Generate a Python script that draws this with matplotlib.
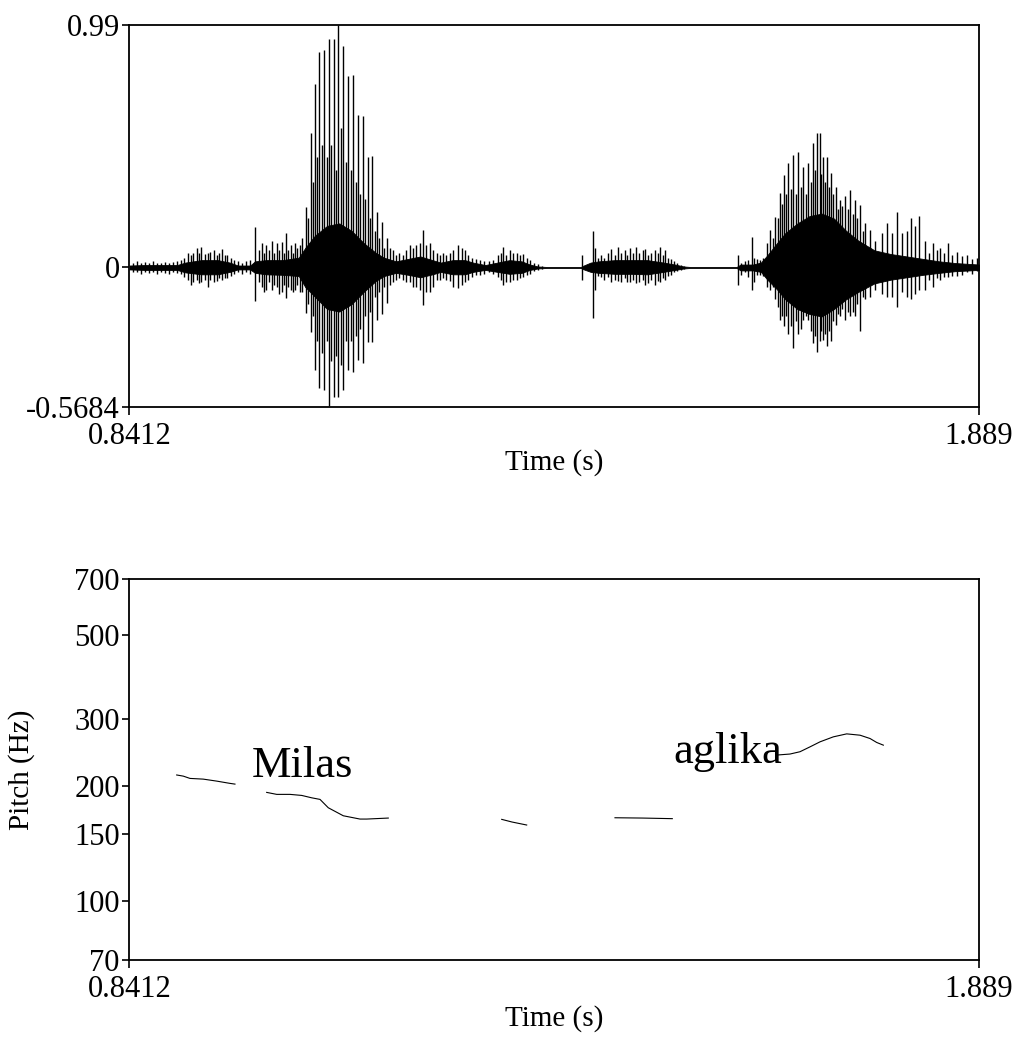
import numpy as np
import matplotlib
matplotlib.use("Agg")
from matplotlib import pyplot as plt
from matplotlib.ticker import NullLocator

plt.rcParams['font.family'] = ['Liberation Serif', 'DejaVu Serif']

t_start = 0.8412
t_end = 1.889
amp_min = -0.5684
amp_max = 0.99

# waveform: dense body (envelope of the black core)
core_t = [0.8412, 0.86, 0.90, 0.91, 0.93, 0.95, 0.965, 0.975, 0.99, 0.996,
          1.01, 1.03, 1.05, 1.058, 1.07, 1.085, 1.10, 1.115, 1.13, 1.145,
          1.155, 1.17, 1.185, 1.20, 1.215, 1.225, 1.24, 1.255, 1.265, 1.28,
          1.295, 1.31, 1.325, 1.335, 1.345, 1.356, 1.398, 1.40, 1.41, 1.42,
          1.44, 1.46, 1.48, 1.50, 1.514, 1.525, 1.533, 1.59, 1.595, 1.61,
          1.62, 1.628, 1.64, 1.65, 1.665, 1.68, 1.695, 1.71, 1.725, 1.74,
          1.76, 1.78, 1.80, 1.82, 1.84, 1.86, 1.889]
core_hi = [0.008, 0.01, 0.01, 0.02, 0.03, 0.03, 0.02, 0.008, 0.008, 0.025,
           0.03, 0.03, 0.04, 0.08, 0.13, 0.17, 0.18, 0.15, 0.1, 0.06,
           0.04, 0.025, 0.035, 0.045, 0.03, 0.02, 0.03, 0.03, 0.02, 0.01,
           0.02, 0.03, 0.025, 0.012, 0.004, 0.002, 0.002, 0.006, 0.02, 0.025,
           0.03, 0.03, 0.03, 0.02, 0.012, 0.004, 0.002, 0.002, 0.012, 0.012,
           0.02, 0.05, 0.1, 0.14, 0.18, 0.21, 0.22, 0.2, 0.15, 0.11,
           0.07, 0.055, 0.045, 0.035, 0.025, 0.018, 0.012]
core_lo = [-0.008, -0.01, -0.01, -0.02, -0.028, -0.028, -0.018, -0.008, -0.008, -0.022,
           -0.028, -0.03, -0.035, -0.08, -0.12, -0.17, -0.18, -0.15, -0.1, -0.055,
           -0.035, -0.022, -0.03, -0.04, -0.028, -0.018, -0.028, -0.028, -0.018, -0.01,
           -0.018, -0.026, -0.022, -0.01, -0.004, -0.002, -0.002, -0.006, -0.018, -0.022,
           -0.026, -0.026, -0.028, -0.018, -0.01, -0.004, -0.002, -0.002, -0.012, -0.012,
           -0.018, -0.05, -0.09, -0.13, -0.17, -0.19, -0.2, -0.17, -0.13, -0.1,
           -0.065, -0.05, -0.04, -0.03, -0.022, -0.015, -0.01]

# waveform: individual peaks sticking out of the body
spike_t = [0.845, 0.850, 0.855, 0.860, 0.865, 0.870, 0.875, 0.880, 0.885, 0.890, 0.895, 0.900, 0.905,
           0.909, 0.913, 0.917, 0.920, 0.924, 0.927, 0.930, 0.934, 0.938, 0.941, 0.945, 0.949,
           0.952, 0.955, 0.959, 0.962, 0.966, 0.970, 0.975, 0.980, 0.985, 0.990,
           0.996,
           1.0015, 1.0043, 1.007, 1.010, 1.013, 1.0166, 1.0195, 1.0228, 1.026, 1.029,
           1.0315, 1.0342, 1.037, 1.040, 1.0425, 1.0453, 1.048, 1.0515, 1.0545,
           1.0589, 1.0618, 1.0647, 1.0672, 1.0696, 1.0725, 1.0753, 1.0782, 1.0811, 1.0842,
           1.0873, 1.0902, 1.0931, 1.0959, 1.0987, 1.1018, 1.1049, 1.1078, 1.1107, 1.114,
           1.1173, 1.1204, 1.1234, 1.1261, 1.1288, 1.1319, 1.135, 1.1378, 1.1407, 1.1434,
           1.1461, 1.1495, 1.153, 1.1557, 1.1584,
           1.162, 1.166, 1.170, 1.174, 1.178, 1.182, 1.1872, 1.191, 1.195, 1.199,
           1.2036, 1.207, 1.2118, 1.216, 1.220, 1.224, 1.228, 1.232, 1.236, 1.2406,
           1.2468, 1.251, 1.255, 1.259, 1.264, 1.269, 1.274, 1.279, 1.285, 1.290,
           1.296, 1.299, 1.3023, 1.306, 1.310, 1.314, 1.3188, 1.323, 1.3269, 1.331,
           1.335, 1.340, 1.345, 1.350,
           1.3997, 1.4133, 1.4155,
           1.419, 1.423, 1.427, 1.431, 1.435, 1.440, 1.444, 1.448, 1.452, 1.455,
           1.4585, 1.462, 1.466, 1.470, 1.474, 1.477, 1.481, 1.485, 1.4894, 1.4925,
           1.4955, 1.499, 1.5017, 1.505, 1.509, 1.513, 1.517, 1.521, 1.525,
           1.5921, 1.596, 1.600, 1.604, 1.6086, 1.612, 1.615, 1.619, 1.623, 1.627,
           1.6312, 1.6374, 1.6435, 1.6485, 1.6538, 1.6599, 1.6661, 1.6723, 1.6784, 1.6846,
           1.6895, 1.6929, 1.6962, 1.7011, 1.7064, 1.7126, 1.7175, 1.7237, 1.7299, 1.736,
           1.7422, 1.7484, 1.7545, 1.7607, 1.769, 1.7751, 1.7813, 1.7875, 1.7936, 1.7998,
           1.8047, 1.81, 1.8153, 1.8224, 1.827, 1.8326, 1.837, 1.8409, 1.846, 1.8511,
           1.856, 1.8615, 1.868, 1.8738, 1.880, 1.8861,
           1.6343, 1.6405, 1.646, 1.6511, 1.6568, 1.663, 1.6692, 1.6753, 1.6815, 1.687,
           1.6946, 1.6986, 1.7037, 1.7095, 1.715, 1.7206, 1.7268, 1.733, 1.7391, 1.7453]
spike_hi = [0.02, 0.025, 0.018, 0.022, 0.02, 0.025, 0.02, 0.018, 0.024, 0.02, 0.022, 0.025, 0.03,
            0.04, 0.06, 0.05, 0.06, 0.08, 0.06, 0.083, 0.055, 0.06, 0.065, 0.07, 0.05,
            0.06, 0.074, 0.05, 0.05, 0.04, 0.03, 0.025, 0.02, 0.025, 0.03,
            0.167,
            0.07, 0.10, 0.06, 0.09, 0.07, 0.11, 0.06, 0.10, 0.07, 0.105,
            0.06, 0.14, 0.07, 0.09, 0.06, 0.10, 0.08, 0.09, 0.12,
            0.248, 0.2, 0.55, 0.35, 0.75, 0.45, 0.88, 0.5, 0.888, 0.45,
            0.933, 0.5, 0.935, 0.4, 0.99, 0.57, 0.904, 0.43, 0.782, 0.4,
            0.786, 0.35, 0.623, 0.3, 0.62, 0.28, 0.452, 0.2, 0.455, 0.15,
            0.228, 0.12, 0.187, 0.08, 0.12,
            0.08, 0.07, 0.05, 0.06, 0.05, 0.07, 0.09, 0.08, 0.09, 0.1,
            0.153, 0.09, 0.10, 0.07, 0.06, 0.05, 0.06, 0.05, 0.06, 0.07,
            0.09, 0.08, 0.07, 0.05, 0.04, 0.035, 0.03, 0.025, 0.025, 0.03,
            0.05, 0.06, 0.085, 0.05, 0.07, 0.06, 0.06, 0.05, 0.055, 0.04,
            0.03, 0.02, 0.015, 0.008,
            0.05, 0.15, 0.08,
            0.04, 0.05, 0.04, 0.06, 0.075, 0.05, 0.085, 0.06, 0.07, 0.05,
            0.08, 0.06, 0.085, 0.06, 0.07, 0.075, 0.05, 0.06, 0.07, 0.06,
            0.085, 0.05, 0.07, 0.04, 0.035, 0.025, 0.02, 0.012, 0.008,
            0.05, 0.02, 0.025, 0.03, 0.126, 0.04, 0.035, 0.03, 0.04, 0.1,
            0.153, 0.207, 0.303, 0.378, 0.426, 0.459, 0.473, 0.41, 0.426, 0.508,
            0.549, 0.549, 0.452, 0.45, 0.385, 0.33, 0.275, 0.29, 0.316, 0.275,
            0.255, 0.18, 0.153, 0.11, 0.14, 0.18, 0.14, 0.228, 0.14, 0.15,
            0.2, 0.17, 0.21, 0.11, 0.06, 0.10, 0.07, 0.08, 0.06, 0.10,
            0.05, 0.065, 0.045, 0.05, 0.035, 0.04,
            0.12, 0.2, 0.26, 0.3, 0.32, 0.3, 0.33, 0.3, 0.35, 0.4,
            0.38, 0.35, 0.33, 0.3, 0.24, 0.25, 0.24, 0.22, 0.2, 0.15]
spike_lo = [-0.02, -0.018, -0.025, -0.02, -0.022, -0.02, -0.025, -0.02, -0.022, -0.025, -0.02, -0.022, -0.025,
            -0.04, -0.05, -0.07, -0.06, -0.05, -0.065, -0.06, -0.05, -0.078, -0.05, -0.06, -0.055,
            -0.045, -0.05, -0.045, -0.045, -0.035, -0.025, -0.02, -0.025, -0.02, -0.025,
            -0.137,
            -0.06, -0.08, -0.1, -0.09, -0.06, -0.092, -0.07, -0.08, -0.11, -0.1,
            -0.07, -0.125, -0.08, -0.09, -0.1, -0.09, -0.07, -0.10, -0.1,
            -0.187, -0.15, -0.263, -0.2, -0.419, -0.3, -0.492, -0.35, -0.50, -0.3,
            -0.566, -0.38, -0.528, -0.36, -0.528, -0.4, -0.50, -0.3, -0.42, -0.3,
            -0.425, -0.28, -0.378, -0.25, -0.39, -0.2, -0.303, -0.18, -0.303, -0.12,
            -0.214, -0.1, -0.19, -0.08, -0.145,
            -0.07, -0.06, -0.05, -0.045, -0.05, -0.06, -0.06, -0.08, -0.08, -0.09,
            -0.153, -0.1, -0.10, -0.08, -0.05, -0.05, -0.045, -0.05, -0.055, -0.08,
            -0.085, -0.07, -0.06, -0.05, -0.04, -0.03, -0.03, -0.025, -0.02, -0.025,
            -0.04, -0.05, -0.07, -0.06, -0.06, -0.05, -0.05, -0.045, -0.04, -0.03,
            -0.025, -0.015, -0.01, -0.006,
            -0.05, -0.206, -0.09,
            -0.035, -0.04, -0.05, -0.04, -0.06, -0.05, -0.055, -0.06, -0.045, -0.06,
            -0.06, -0.05, -0.065, -0.06, -0.05, -0.07, -0.065, -0.05, -0.07, -0.055,
            -0.06, -0.045, -0.05, -0.035, -0.03, -0.02, -0.015, -0.01, -0.006,
            -0.07, -0.03, -0.02, -0.04, -0.092, -0.06, -0.03, -0.03, -0.035, -0.08,
            -0.092, -0.13, -0.215, -0.24, -0.27, -0.33, -0.27, -0.215, -0.215, -0.31,
            -0.345, -0.30, -0.296, -0.32, -0.30, -0.235, -0.2, -0.215, -0.2, -0.2,
            -0.26, -0.13, -0.12, -0.09, -0.11, -0.12, -0.12, -0.16, -0.10, -0.12,
            -0.13, -0.11, -0.09, -0.09, -0.05, -0.08, -0.045, -0.05, -0.04, -0.04,
            -0.035, -0.035, -0.03, -0.02, -0.025, -0.016,
            -0.08, -0.16, -0.2, -0.2, -0.24, -0.22, -0.25, -0.2, -0.26, -0.28,
            -0.26, -0.27, -0.26, -0.22, -0.19, -0.17, -0.18, -0.18, -0.15, -0.12]

# pitch track (Hz), one list per voiced stretch
pitch_t = [
    [0.8994, 0.9076, 0.9158, 0.9322, 0.9488, 0.9651, 0.9713],
    [1.0104, 1.0228, 1.0392, 1.0536, 1.0659, 1.0762, 1.0864, 1.1049, 1.1255, 1.1338, 1.1604],
    [1.3003, 1.3130, 1.3311],
    [1.4400, 1.4738, 1.5107],
    [1.6395, 1.6559, 1.6682, 1.6806, 1.6929, 1.7093, 1.7258, 1.7423, 1.7546, 1.7628, 1.7710],
]
pitch_hz = [
    [214.2, 212.7, 209.8, 208.9, 206.4, 203.6, 202.7],
    [192.8, 190.5, 190.5, 189.3, 186.6, 184.8, 175.7, 167.4, 164.1, 164.1, 165.1],
    [163.8, 161.2, 158.3],
    [165.4, 165.1, 164.5],
    [241.6, 243.1, 246.5, 253.9, 261.7, 269.7, 274.6, 272.4, 267.0, 260.7, 256.5],
]
pitch_ticks = [70, 100, 150, 200, 300, 500, 700]
words = ['Milas', 'aglika']
word_t = [0.9919, 1.5119]
word_hz = [211.9, 229.8]

fig = plt.figure(figsize=(10.18, 10.39), dpi=100)
ax1 = fig.add_axes([0.1272, 0.6086, 0.8345, 0.3673])
ax2 = fig.add_axes([0.1272, 0.0760, 0.8345, 0.3667])

# waveform
ax1.fill_between(core_t, core_lo, core_hi, color='black', linewidth=0.6)
ax1.vlines(spike_t, spike_lo, spike_hi, color='black', linewidth=1.0)
ax1.set_xlim(t_start, t_end)
ax1.set_ylim(amp_min, amp_max)
ax1.set_yticks([amp_min, 0, amp_max])
ax1.set_yticklabels(['-0.5684', '0', '0.99'])

# pitch
for tt, hh in zip(pitch_t, pitch_hz):
    ax2.plot(tt, hh, color='black', linewidth=0.8)
for w, tt, hh in zip(words, word_t, word_hz):
    ax2.text(tt, hh, w, fontsize=32, ha='left', va='baseline')
ax2.set_yscale('log')
ax2.set_xlim(t_start, t_end)
ax2.set_ylim(70, 700)
ax2.set_yticks(pitch_ticks)
ax2.set_yticklabels([str(v) for v in pitch_ticks])
ax2.yaxis.set_minor_locator(NullLocator())
ax2.set_ylabel('Pitch (Hz)', fontsize=21)
ax2.yaxis.set_label_coords(-0.111, 0.5)

for ax in (ax1, ax2):
    ax.set_xticks([t_start, t_end])
    ax.set_xticklabels(['0.8412', '1.889'])
    ax.set_xlabel('Time (s)', fontsize=21)
    ax.tick_params(axis='both', direction='out', labelsize=22, width=1.2)
    ax.tick_params(axis='x', length=6, pad=5)
    ax.tick_params(axis='y', length=5, pad=2)
    for s in ax.spines.values():
        s.set_linewidth(1.3)
ax1.xaxis.set_label_coords(0.5, -0.111)
ax2.xaxis.set_label_coords(0.5, -0.118)

fig.savefig('out.png', dpi=100)
